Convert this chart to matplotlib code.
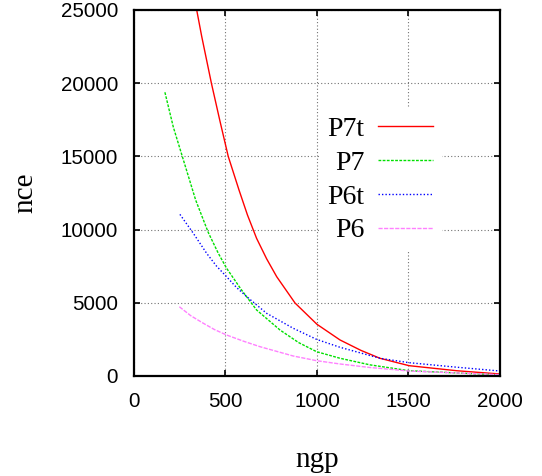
import matplotlib
matplotlib.use('Agg')
import matplotlib.pyplot as plt

# number of grid points vs number of cell evaluations
ngp_p7t = [320, 370, 423, 470, 515, 574, 620, 670, 725, 780, 880, 1000, 1126, 1240, 1344, 1503, 1763, 2000]
nce_p7t = [26500, 23200, 20000, 17400, 15000, 12700, 11000, 9400, 8000, 6780, 4985, 3530, 2460, 1750, 1210, 705, 360, 137]

ngp_p7 = [169, 215, 264, 337, 406, 460, 506, 588, 670, 798, 900, 998, 1126, 1290, 1503, 2000]
nce_p7 = [19380, 17000, 15000, 12020, 9800, 8400, 7360, 5870, 4510, 3140, 2280, 1660, 1210, 760, 362, 70]

ngp_p6t = [251, 324, 397, 450, 506, 560, 616, 725, 870, 998, 1126, 1344, 1503, 1763, 2000]
nce_p6t = [11040, 9750, 8380, 7520, 6780, 6050, 5420, 4280, 3260, 2500, 1960, 1210, 910, 600, 340]

ngp_p6 = [248, 310, 379, 440, 506, 600, 689, 870, 998, 1126, 1290, 1503, 2000]
nce_p6 = [4730, 4120, 3600, 3170, 2800, 2370, 2000, 1366, 1045, 820, 580, 340, 90]

x_ticks = [0, 500, 1000, 1500, 2000]
y_ticks = [0, 5000, 10000, 15000, 20000, 25000]


def main():
    plt.rcParams['font.family'] = ['Liberation Sans', 'DejaVu Sans']

    fig = plt.figure(figsize=(5.42, 4.76), dpi=100)
    ax = fig.add_axes([0.2472, 0.2101, 0.6753, 0.7689])

    ax.plot(ngp_p7t, nce_p7t, color='#ff0000', lw=1.0, ls='-', label='P7t')
    ax.plot(ngp_p7, nce_p7, color='#00e000', lw=1.0, ls=(0, (2, 1)), label='P7')
    ax.plot(ngp_p6t, nce_p6t, color='#0000ff', lw=1.0, ls=(0, (1, 1.5)), label='P6t')
    ax.plot(ngp_p6, nce_p6, color='#ff80ff', lw=1.0, ls=(0, (3, 1)), label='P6')

    ax.set_xlim(0, 2000)
    ax.set_ylim(0, 25000)
    ax.set_xticks(x_ticks)
    ax.set_yticks(y_ticks)

    ax.grid(True, color='0.45', ls=(0, (1, 2)), lw=0.8)
    ax.set_axisbelow(True)
    for sp in ax.spines.values():
        sp.set_linewidth(1.6)

    ax.tick_params(direction='in', length=4, width=1.2, top=True, right=True,
                   pad=11.5, labelsize=14.8)

    serif = ['Liberation Serif', 'DejaVu Serif']
    ax.set_xlabel('ngp', family=serif, fontsize=21, labelpad=26)
    ax.set_ylabel('nce', family=serif, fontsize=21, labelpad=16)

    ax.legend(loc='center', bbox_to_anchor=(0.6735, 0.5355),
              markerfirst=False, prop={'family': serif, 'size': 20},
              handlelength=2.0, handletextpad=0.47, labelspacing=0.3,
              borderpad=0.3, borderaxespad=0, fancybox=False,
              frameon=True, framealpha=1.0, facecolor='white', edgecolor='none')

    fig.savefig('out.png', dpi=100)


if __name__ == "__main__":
    main()
